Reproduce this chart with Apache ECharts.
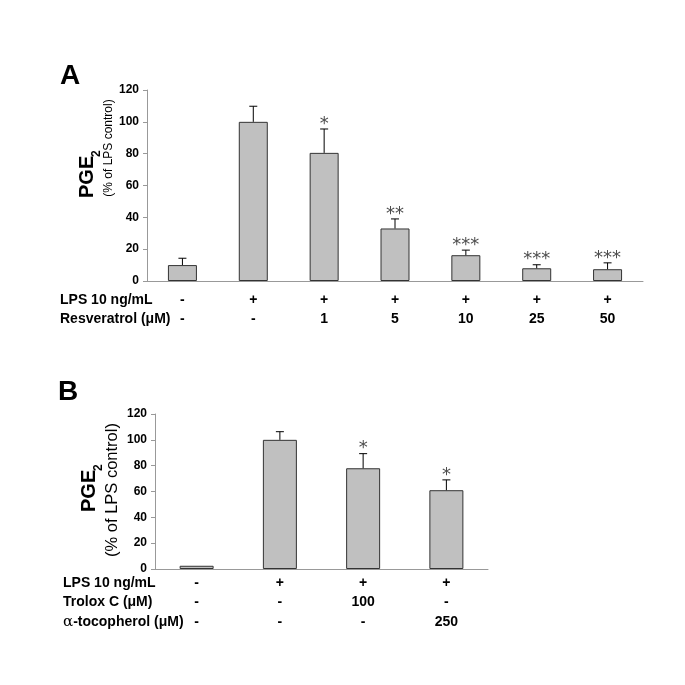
<!DOCTYPE html>
<html>
<head>
<meta charset="utf-8">
<script src="https://cdn.jsdelivr.net/npm/echarts@6/dist/echarts.min.js"></script>
<style>
html,body{margin:0;padding:0;background:#fff;}
#main{width:685px;height:685px;}
</style>
</head>
<body>
<div id="main"></div>
<script>
// panel A
var lpsA = ['-', '+', '+', '+', '+', '+', '+'];
var resvA = ['-', '-', '1', '5', '10', '25', '50'];
var valA = [10, 100, 80.5, 33, 16.2, 8, 7.4];
var errA = [4.3, 9.8, 15, 6, 3.2, 2.2, 4];
var sigA = ['', '', '*', '**', '***', '***', '***'];
var rowNamesA = ['LPS 10 ng/mL', 'Resveratrol (μM)'];

// panel B
var lpsB = ['-', '+', '+', '+'];
var troloxB = ['-', '-', '100', '-'];
var tocoB = ['-', '-', '-', '250'];
var valB = [2.5, 100, 78, 61];
var errB = [0, 6.3, 11.3, 8];
var sigB = ['', '', '*', '*'];
var rowNamesB = ['LPS 10 ng/mL', 'Trolox C (μM)', '{g|α}-tocopherol (μM)'];

var FONT = 'Liberation Sans, Arial, sans-serif';
var myChart = echarts.init(document.getElementById('main'));

function idx(n){
	var a = [];
	for (var i = 0; i < n; i++) a.push(String(i));
	return a;
}

// error bar + asterisk
function errRender(vals, errs, sigs){
	return function(params, api){
		var i = params.dataIndex;
		var top = vals[i] + errs[i];
		var p0 = api.coord([i, vals[i]]);
		var p1 = api.coord([i, top]);
		var kids = [];
		if (errs[i] > 0) {
			kids.push({type: 'line', shape: {x1: p0[0], y1: p0[1], x2: p1[0], y2: p1[1]}, style: {stroke: '#000', lineWidth: 1}});
			kids.push({type: 'line', shape: {x1: p1[0] - 4, y1: p1[1], x2: p1[0] + 4, y2: p1[1]}, style: {stroke: '#000', lineWidth: 1}});
		}
		if (sigs[i]) {
			kids.push({type: 'text', x: p1[0], y: p1[1] + 4, style: {text: sigs[i], align: 'center', verticalAlign: 'bottom', fill: '#4d4d4d', font: '18px DejaVu Sans, sans-serif'}});
		}
		return {type: 'group', children: kids};
	};
}

function rowHeads(names, x, y0, step){
	var g = [];
	for (var i = 0; i < names.length; i++) {
		g.push({type: 'text', x: x, y: y0 + i * step, style: {
			text: names[i], fill: '#000', font: 'bold 14px ' + FONT, verticalAlign: 'middle', align: 'left',
			rich: {g: {fontFamily: 'DejaVu Serif, serif', fontWeight: 'normal', fontSize: 15}}
		}});
	}
	return g;
}

// rotated PGE2 title: caps centre x, bottom y of "P"
function pgeTitle(cx, yb){
	return [
		{type: 'text', x: cx, y: yb, rotation: Math.PI / 2, style: {
			text: 'PGE', align: 'left', verticalAlign: 'middle', font: 'bold 20px ' + FONT, fill: '#000'
		}},
		{type: 'text', x: cx + 10, y: yb - 41, rotation: Math.PI / 2, style: {
			text: '2', align: 'left', verticalAlign: 'middle', font: 'bold 12px ' + FONT, fill: '#000'
		}}
	];
}

var yAxisBase = {
	type: 'value', min: 0, max: 120, interval: 20,
	axisLine: {show: true, lineStyle: {color: '#999'}},
	axisTick: {show: true, length: 4, lineStyle: {color: '#999'}},
	splitLine: {show: false},
	axisLabel: {color: '#000', fontWeight: 'bold', fontSize: 12, fontFamily: FONT, margin: 8}
};

var option = {
	animation: false,
	backgroundColor: '#fff',
	grid: [
		{left: 147, top: 90, width: 496, height: 191},
		{left: 155, top: 414, width: 333, height: 155}
	],
	xAxis: [
		{
			gridIndex: 0, type: 'category', data: idx(valA.length),
			axisLine: {lineStyle: {color: '#999'}}, axisTick: {show: false},
			axisLabel: {
				margin: 10, lineHeight: 19, color: '#000', fontWeight: 'bold', fontSize: 14, fontFamily: FONT,
				formatter: function(v, i){ return lpsA[i] + '\n' + resvA[i]; }
			}
		},
		{
			gridIndex: 1, type: 'category', data: idx(valB.length),
			axisLine: {lineStyle: {color: '#999'}}, axisTick: {show: false},
			axisLabel: {
				margin: 4, lineHeight: 19.5, color: '#000', fontWeight: 'bold', fontSize: 14, fontFamily: FONT,
				formatter: function(v, i){ return lpsB[i] + '\n' + troloxB[i] + '\n' + tocoB[i]; }
			}
		}
	],
	yAxis: [
		echarts.util.merge({gridIndex: 0}, yAxisBase, true),
		echarts.util.merge({gridIndex: 1}, yAxisBase, true)
	],
	series: [
		{
			type: 'bar', xAxisIndex: 0, yAxisIndex: 0, data: valA, barWidth: 29,
			itemStyle: {color: '#c0c0c0', borderColor: '#333', borderWidth: 1}
		},
		{
			type: 'custom', xAxisIndex: 0, yAxisIndex: 0, data: valA.map(function(v, i){ return [i, v + errA[i]]; }),
			renderItem: errRender(valA, errA, sigA), z: 3
		},
		{
			type: 'bar', xAxisIndex: 1, yAxisIndex: 1, data: valB, barWidth: 34,
			itemStyle: {color: '#c0c0c0', borderColor: '#333', borderWidth: 1}
		},
		{
			type: 'custom', xAxisIndex: 1, yAxisIndex: 1, data: valB.map(function(v, i){ return [i, v + errB[i]]; }),
			renderItem: errRender(valB, errB, sigB), z: 3
		}
	],
	graphic: [
		{type: 'text', x: 60, y: 62, style: {text: 'A', font: 'bold 28px ' + FONT, fill: '#000'}},
		{type: 'text', x: 58, y: 378, style: {text: 'B', font: 'bold 28px ' + FONT, fill: '#000'}},
		{type: 'text', x: 109, y: 148, rotation: Math.PI / 2, style: {
			text: '(% of LPS control)', align: 'center', verticalAlign: 'middle', font: '12px ' + FONT, fill: '#000'
		}},
		{type: 'text', x: 112, y: 490, rotation: Math.PI / 2, style: {
			text: '(% of LPS control)', align: 'center', verticalAlign: 'middle', font: '16.5px ' + FONT, fill: '#000'
		}}
	].concat(pgeTitle(87, 198)).concat(pgeTitle(89, 512))
	 .concat(rowHeads(rowNamesA, 60, 300, 19)).concat(rowHeads(rowNamesB, 63, 582.7, 19.5))
};

myChart.setOption(option);
</script>
</body>
</html>
